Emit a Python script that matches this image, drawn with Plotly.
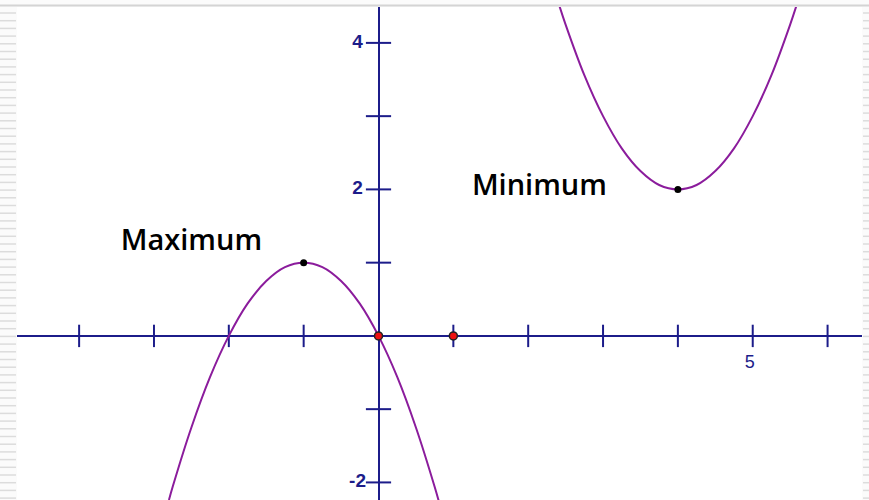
import plotly.graph_objects as go

# ---- data ----
left_x = [-2.8, -2.75, -2.5, -2.25, -2.0, -1.75, -1.5, -1.25, -1.0, -0.75, -0.5, -0.25, 0.0, 0.25, 0.5, 0.75, 0.85]
left_y = [-2.24, -2.06, -1.25, -0.56, 0.0, 0.44, 0.75, 0.94, 1.0, 0.94, 0.75, 0.44, 0.0, -0.56, -1.25, -2.06, -2.42]
right_x = [2.4, 2.5, 2.75, 3.0, 3.25, 3.5, 3.75, 4.0, 4.25, 4.5, 4.75, 5.0, 5.25, 5.5, 5.6]
right_y = [4.56, 4.25, 3.56, 3.0, 2.56, 2.25, 2.06, 2.0, 2.06, 2.25, 2.56, 3.0, 3.56, 4.25, 4.56]

extrema_x = [-1, 4]
extrema_y = [1, 2]
red_x = [0, 1]
red_y = [0, 0]

x_ticks = [-4, -3, -2, -1, 1, 2, 3, 4, 5, 6]
y_ticks = [-2, -1, 1, 2, 3, 4]
x_labels = {5: "5"}
y_labels = {4: "4", 2: "2", -2: "-2"}

annot_text = ["Maximum", "Minimum"]
annot_x = [-2.5, 2.15]
annot_y = [1.27, 2.02]

AXIS = "#1c1c8a"
CURVE = "#8b1c9c"

fig = go.Figure()

# tick marks
fig.add_trace(go.Scatter(x=x_ticks, y=[0] * len(x_ticks), mode="markers",
                         marker=dict(symbol="line-ns", size=16, line=dict(color=AXIS, width=2)),
                         hoverinfo="skip"))
fig.add_trace(go.Scatter(x=[0] * len(y_ticks), y=y_ticks, mode="markers",
                         marker=dict(symbol="line-ew", size=18, line=dict(color=AXIS, width=2)),
                         hoverinfo="skip"))

# curves
for cx, cy in [(left_x, left_y), (right_x, right_y)]:
    fig.add_trace(go.Scatter(x=cx, y=cy, mode="lines", line=dict(color=CURVE, width=2, shape="spline"),
                             hoverinfo="skip"))

# points
fig.add_trace(go.Scatter(x=extrema_x, y=extrema_y, mode="markers",
                         marker=dict(color="black", size=7), hoverinfo="skip"))
fig.add_trace(go.Scatter(x=red_x, y=red_y, mode="markers",
                         marker=dict(color="#ee1111", size=8, line=dict(color="#222222", width=1.5)),
                         hoverinfo="skip"))

# tick labels
fig.add_trace(go.Scatter(x=[k - 0.04 for k in x_labels.keys()], y=[-0.37] * len(x_labels), mode="text",
                         text=list(x_labels.values()),
                         textfont=dict(family="Liberation Sans, Arial", size=18, color=AXIS),
                         hoverinfo="skip"))
fig.add_trace(go.Scatter(x=[-0.28] * len(y_labels), y=list(y_labels.keys()), mode="text",
                         text=["<b>%s</b>" % t for t in y_labels.values()], textposition="middle center",
                         textfont=dict(family="Liberation Sans, Arial", size=19, color=AXIS),
                         hoverinfo="skip"))

# annotations
fig.add_trace(go.Scatter(x=annot_x, y=annot_y, mode="text", text=annot_text,
                         textfont=dict(family="Open Sans", size=29, weight=600, color="#000000"),
                         hoverinfo="skip"))

# window decorations (border strips)
shapes = [dict(type="line", xref="paper", yref="paper", x0=-0.03, x1=1.02, y0=1.003, y1=1.003,
               line=dict(color="#d4d4d4", width=2))]
W, H = 845, 493
for i in range(66):
    py = 1 - (6 + i * 7.7) / H
    shapes.append(dict(type="line", xref="paper", yref="paper", x0=-17 / W, x1=-1 / W, y0=py, y1=py,
                       line=dict(color="#dcdcdc", width=1.5)))
    shapes.append(dict(type="line", xref="paper", yref="paper", x0=1 + 1 / W, x1=1 + 7 / W, y0=py, y1=py,
                       line=dict(color="#dcdcdc", width=1.5)))

fig.update_layout(
    width=869, height=500,
    margin=dict(l=17, r=7, t=7, b=0),
    paper_bgcolor="#fbfbfb", plot_bgcolor="white",
    showlegend=False,
    shapes=shapes,
    xaxis=dict(range=[-4.83, 6.46], showgrid=False, showticklabels=False, ticks="",
               zeroline=True, zerolinecolor=AXIS, zerolinewidth=2, fixedrange=True),
    yaxis=dict(range=[-2.24, 4.49], showgrid=False, showticklabels=False, ticks="",
               zeroline=True, zerolinecolor=AXIS, zerolinewidth=2, fixedrange=True),
)

fig.write_html("out.html", config={"displayModeBar": False},
               post_script="document.body.style.margin='0';document.body.style.padding='0';")
